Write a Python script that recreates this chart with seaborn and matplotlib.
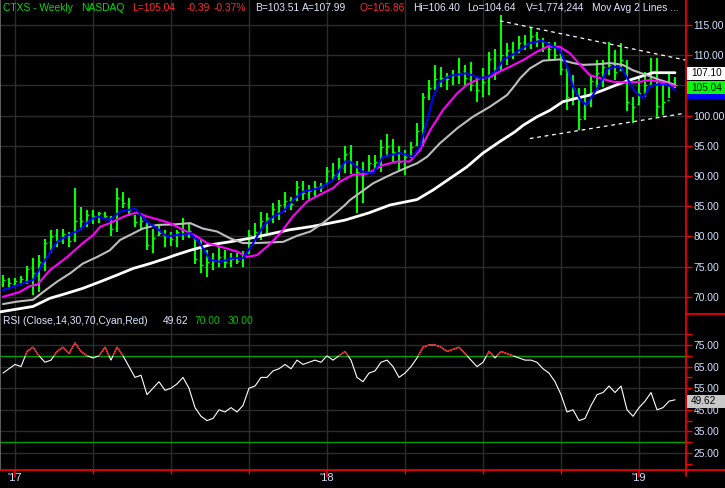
import numpy as np
import pandas as pd
import matplotlib
matplotlib.use("Agg")
import matplotlib.pyplot as plt
import seaborn as sns
from matplotlib.patches import Rectangle
from matplotlib.lines import Line2D

# ---------------- data (weekly bars, index 0 = week of 2016-12-19) ----------------
highs = [73.6,73.1,73.1,73.5,75.1,76.4,76.9,79.5,81.0,81.2, 81.2,80.8,88.0,84.9,84.4,84.4,84.1,84.1,83.3,88.0,
         87.4,86.3,83.6,83.8,82.2,81.3,82.0,81.1,80.8,81.1, 83.0,82.2,80.2,79.4,77.7,77.2,78.3,77.7,77.2,77.2,
         77.5,81.1,82.2,84.1,83.9,85.5,86.1,87.4,86.6,89.1, 89.1,88.5,89.1,88.8,91.5,92.1,92.9,95.0,95.1,92.5,
         92.4,93.5,93.5,96.0,97.0,96.2,94.9,94.3,95.7,98.7, 103.7,105.9,108.4,108.1,107.1,107.5,109.5,108.4,108.9,106.4,
         107.8,110.6,111.0,116.7,112.0,112.2,113.1,113.3,114.5,113.9, 112.8,112.2,112.2,110.9,107.8,106.7,104.5,104.5,106.7,109.2,
         109.2,112.2,110.9,112.0,109.2,103.1,106.2,107.3,109.5,109.5, 105.9,107.0,106.40]
lows = [71.7,71.4,71.7,72.0,72.2,70.3,70.8,74.2,77.2,78.3, 78.8,78.3,79.1,81.1,81.6,82.1,82.2,83.0,80.0,80.8,
        84.7,83.3,81.6,81.1,77.7,77.2,80.0,78.3,78.4,78.3, 79.4,79.7,75.5,73.9,73.3,74.4,75.0,74.7,75.0,75.5,
        75.0,77.2,78.9,79.4,80.2,82.2,82.7,84.1,84.4,85.8, 86.0,86.0,86.6,87.4,88.5,89.1,89.3,90.5,90.4,83.8,
        85.5,90.4,91.0,90.7,93.2,92.4,91.0,90.2,92.9,94.9, 94.9,102.6,104.2,104.8,104.2,105.1,105.3,104.8,104.0,102.3,
        103.1,103.4,105.9,107.5,108.4,109.3,110.3,110.9,111.1,111.4, 110.6,109.2,109.2,106.7,100.9,101.8,97.6,99.3,101.5,104.2,
        104.8,106.7,105.9,107.5,100.7,98.7,101.8,103.1,104.8,99.8, 100.1,102.9,104.64]
opens = [72.2,72.9,72.1,72.5,72.8,74.7,73.5,75.6,79.1,80.2, 79.3,80.2,79.6,83.1,82.4,83.7,83.3,83.7,83.0,81.4,
         86.1,85.4,83.2,82.1,81.9,78.4,80.2,80.3,80.0,79.2, 80.9,80.3,79.8,76.1,74.9,75.5,75.9,76.8,75.6,76.5,
         75.7,77.3,80.1,80.3,82.4,82.9,84.0,85.4,86.0,86.2, 88.5,87.0,87.2,88.3,88.8,91.0,90.0,91.4,93.8,91.9,
         89.9,90.8,92.0,92.6,94.6,95.1,93.7,92.0,93.3,95.2, 97.6,103.3,104.8,106.2,106.5,105.8,106.6,107.4,106.1,105.1,
         104.0,105.8,109.6,108.1,110.3,111.1,110.6,112.2,111.6,113.3, 112.4,111.0,111.3,110.2,107.5,102.9,104.3,99.8,102.1,105.5,
         107.3,107.7,108.6,107.6,108.9,102.0,101.9,104.0,105.3,107.5, 101.4,102.6,105.86]
closes = [72.8,72.3,72.6,72.9,74.6,74.0,75.8,78.9,80.0,79.2, 80.4,79.3,82.5,82.6,83.6,83.4,83.8,83.4,81.2,86.3,
          85.6,84.4,82.4,82.6,78.6,79.8,80.6,80.1,79.5,80.7, 80.5,80.9,76.3,75.2,75.8,76.0,76.6,75.8,76.3,76.0,
          76.8,80.3,80.7,82.6,83.1,84.5,85.2,85.9,85.3,88.1, 87.2,87.5,88.1,88.2,90.8,90.2,91.6,93.6,92.1,90.7,
          90.5,92.2,92.4,94.8,94.9,93.9,92.3,93.1,94.8,97.4, 103.1,104.6,106.0,106.3,106.1,106.7,107.1,106.2,105.0,104.2,
          105.6,109.3,107.7,110.1,110.9,110.3,112.0,111.8,113.1,112.6, 111.3,111.1,110.0,107.7,103.1,104.6,99.5,101.9,105.8,107.1,
          108.0,108.4,107.3,109.2,102.3,101.5,103.8,105.1,107.3,101.6, 102.3,105.4,105.04]

# moving-average lines (week index, price)
blue_idx = [0,5,6.7,9,10.7,12.8,14.5,15.7,17.8,19.5,22,24,25.7,27.3,28.7,31.2,32.8,34.5,36.2,38.3,
            40,41.7,43.3,45,46.7,48.3,50,52.8,55,57,57.8,60,61.7,63.3,66.2,68.3,69.5,70.7,71.7,72.8,
            74.5,77.3,79.5,80.7,82.3,83.3,85.3,87.8,89.8,91.2,92.8,94,95,96.2,97.2,98.3,99.5,100.8,102.3,103.2,
            104.2,105.3,106.7,107.8,109,110.7,112]
blue_val = [71.1,72.8,75.6,79.1,80.1,81.1,82.7,83.3,82.7,84.1,84.6,82.4,81.3,80.0,80.2,80.5,78.9,76.1,75.8,76.4,
            76.4,78.9,81.6,83.3,84.1,86.0,87.4,88.0,89.3,92.4,92.4,90.7,90.4,93.2,93.8,93.2,94.9,99.3,103.1,105.6,
            106.6,107.0,106.2,106.4,107.5,109.2,110.3,112.0,112.4,111.7,110.9,108.1,104.8,102.6,101.8,103.4,105.3,107.8,108.1,107.8,
            105.9,104.0,102.9,104.9,105.1,105.2,104.2]
mag_idx = [0,2.8,4.5,5.7,7.8,10.7,13.3,15,16.2,17.8,19.5,21.2,22.3,24,26.2,27.8,30,32.3,34,36.2,
           39,40.7,42.3,44,46.2,48.3,50.7,52.8,55,56.2,58.3,60.7,63.3,65.7,67.8,69.5,71.2,73.3,75.7,77.3,
           79.5,81.2,82.8,84.5,86.7,89,90.7,92.8,94.5,96.2,97.8,99.5,101.7,104,106.2,107.8,110,112]
mag_val = [70.0,70.8,71.8,72.0,74.4,76.6,78.9,80.2,81.6,82.2,83.0,83.7,83.9,83.3,82.7,82.2,81.1,80.0,78.9,78.3,
           77.5,76.6,76.9,78.3,80.5,83.3,85.8,86.9,88.0,89.1,90.2,90.4,91.8,92.4,92.4,94.3,97.6,100.9,103.7,105.1,
           106.2,106.4,107.3,108.1,109.2,110.6,111.4,111.4,110.3,108.4,106.7,106.2,105.6,105.5,105.6,105.9,105.5,104.9]
gray_idx = [0,2.3,5,6.7,9,11.2,13.3,15.7,17.8,19.5,21.7,23.3,25.7,28.7,31.2,33.3,35.7,37.8,40,42.3,
            44.5,46.7,49,51.2,53.3,55.7,57,57.8,61.7,65,67.3,69,70.7,72.8,75.7,78.3,81.2,84,85.3,86.2,
            87.8,90,92.8,95,96.7,99,101.2,103.3,105,107.3,109.5,112]
gray_val = [68.8,69.2,69.5,70.8,72.5,73.9,75.5,76.6,77.7,79.4,80.5,81.3,81.9,82.0,82.2,81.3,80.8,79.7,78.9,78.9,
            79.0,79.1,80.1,80.8,82.2,84.1,85.2,86.0,88.8,90.4,91.4,92.1,93.2,95.4,97.9,99.8,101.5,103.4,105.0,106.2,
            107.8,109.1,109.3,108.7,108.4,108.5,108.7,108.4,107.5,106.7,105.9,105.1]
white_idx = [-0.5,5,7.8,10.7,13.3,16.2,19,21.7,24.5,27.3,28.7,31.2,34.5,37.8,41.2,44.5,47.8,51.2,54.5,57,
             61,64.5,69,71.7,74.5,77.3,80,82.8,85.3,86.7,89,91.2,93.3,95.7,97.8,100,102.3,104.5,106.7,108.3,112]
white_val = [67.5,68.4,69.75,70.6,71.4,72.5,73.6,74.7,75.5,76.4,76.9,77.7,78.6,79.1,79.7,80.4,81.1,81.6,82.2,82.7,
             83.9,85.2,86.1,87.7,89.6,91.5,93.8,95.7,97.3,98.4,99.8,100.9,102.3,102.9,103.4,104.2,105.1,105.9,106.6,107.1,107.1]

# dashed trend lines
upper_x = [82.8, 113.7]
upper_y = [115.7, 109.2]
lower_x = [87.8, 113.7]
lower_y = [96.2, 100.4]

rsi = [62,64,66,65,72,74,70,67,68,72, 74,71,76,72,70,69,70,74,68,74,
       70,65,60,61,52,55,58,54,55,57, 60,55,46,42,40,41,45,44,46,44,
       47,55,56,60,60,63,64,66,64,68, 66,67,68,67,70,68,70,72,68,60,
       58,62,63,67,68,65,60,62,65,69, 74,75,75,74,72,73,74,71,68,65,
       67,72,69,72,71,70,69,68,68,67, 64,62,58,52,44,45,40,41,47,52,
       53,56,53,56,45,42,46,49,53,45, 46,49,49.62]

year_pos = [2, 54, 106]
year_labels = ["'17", "'18", "'19"]
quarter_pos = [15, 28, 41, 67, 80, 93]
price_ticks = [70, 75, 80, 85, 90, 95, 100, 105, 110, 115]
hidden_price_labels = [105]          # covered by the last-price box in the reference
rsi_ticks = [25, 35, 45, 55, 65, 75]

# ---------------- style ----------------
sns.set_theme(style="dark", rc={"axes.facecolor": "black", "figure.facecolor": "black"})
plt.rcParams["font.family"] = ["Liberation Sans", "DejaVu Sans"]

W, H = 725, 488
GREEN = "#00ff00"
LBL = "#d4e0ff"
RED = "#ff0000"
GRID = "#2c2c2c"
FS = 7.4

fig = plt.figure(figsize=(W / 100, H / 100), dpi=100, facecolor="black")
axw = 686 / W
axp = fig.add_axes([0, 1 - 314 / H, axw, 314 / H])
axr = fig.add_axes([0, 1 - 470 / H, axw, 156 / H], sharex=axp)

def py(y):  # price at pixel row
    return 115 - (y - 25) / 6.04

def ry(y):  # rsi at pixel row
    return 75 - (y - 345) / 2.16

xmin, xmax = -0.5, 113.83
axp.set_xlim(xmin, xmax)
axp.set_ylim(py(314), py(0))
axr.set_ylim(ry(470), ry(314))

for ax in (axp, axr):
    ax.set_facecolor("black")
    for q in year_pos + quarter_pos:
        ax.axvline(q, color=GRID, lw=1, zorder=0)
    for s in ("top", "bottom"):
        ax.spines[s].set_visible(False)
    ax.spines["left"].set_visible(True)
    ax.spines["left"].set_color("#707070")
    ax.spines["left"].set_linewidth(1.2)
    ax.spines["right"].set_visible(True)
    ax.spines["right"].set_color(RED)
    ax.spines["right"].set_linewidth(1.2)
    ax.yaxis.tick_right()
    ax.tick_params(axis="y", which="both", direction="out", colors=RED, labelcolor=LBL,
                   length=4, width=1, pad=1.5, labelsize=FS, left=False, right=True)

for p in price_ticks:
    axp.axhline(p, color=GRID, lw=1, zorder=0)
axp.set_yticks(price_ticks)
axp.set_yticklabels(["" if p in hidden_price_labels else f"{p:.2f}" for p in price_ticks])
axp.tick_params(axis="x", bottom=False, labelbottom=False)

# OHLC bars
idx = np.arange(len(highs))
axp.vlines(idx, lows, highs, color=GREEN, lw=1.5, zorder=2)
axp.hlines(opens, idx - 0.4, idx, color=GREEN, lw=1, zorder=2)
axp.hlines(closes, idx, idx + 0.4, color=GREEN, lw=1, zorder=2)

# moving averages
sns.lineplot(x=white_idx, y=white_val, ax=axp, color="white", lw=2.0, sort=False, estimator=None, zorder=3)
sns.lineplot(x=gray_idx, y=gray_val, ax=axp, color="#bdbdbd", lw=1.5, sort=False, estimator=None, zorder=3)
sns.lineplot(x=mag_idx, y=mag_val, ax=axp, color="#ff00ff", lw=1.5, sort=False, estimator=None, zorder=4)
sns.lineplot(x=blue_idx, y=blue_val, ax=axp, color="#0000ff", lw=1.5, sort=False, estimator=None, zorder=5)
axp.plot(upper_x, upper_y, color="white", lw=0.9, dashes=(3, 3), zorder=5)
axp.plot(lower_x, lower_y, color="white", lw=0.9, dashes=(3, 3), zorder=5)

# RSI panel
for r in rsi_ticks + [80]:
    axr.axhline(r, color=GRID, lw=1, zorder=0)
axr.axhline(70, color="#00a000", lw=1, zorder=1)
axr.axhline(30, color="#00a000", lw=1, zorder=1)
sns.lineplot(x=idx, y=rsi, ax=axr, color="white", lw=0.8, sort=False, estimator=None, zorder=3)
sns.lineplot(x=idx, y=rsi, ax=axr, color=RED, lw=0.8, sort=False, estimator=None, zorder=4)
axr.lines[-1].set_clip_path(Rectangle((xmin - 5, 70), 200, 100, transform=axr.transData))
axr.set_yticks(rsi_ticks)
axr.set_yticklabels([f"{r:.2f}" for r in rsi_ticks])
axr.set_yticks(list(range(20, 85, 5)), minor=True)
axr.set_xticks(year_pos)
axr.set_xticklabels(year_labels)
axr.set_xticks(quarter_pos, minor=True)
axr.tick_params(axis="x", which="major", direction="out", colors=RED, labelcolor=LBL,
                length=5, width=1.2, pad=-2.5, labelsize=FS + 0.6, bottom=True)
axr.tick_params(axis="x", which="minor", direction="out", colors=RED, length=3, width=1, bottom=True)
axr.spines["bottom"].set_visible(True)
axr.spines["bottom"].set_color(RED)
axr.spines["bottom"].set_linewidth(1.2)
for lab in axr.get_xticklabels():
    lab.set_color(LBL)
axp.set_xlabel(""); axr.set_xlabel(""); axp.set_ylabel(""); axr.set_ylabel("")

# figure-level red lines in the axis area
fig.add_artist(Line2D([axw, 1], [1 - 470 / H, 1 - 470 / H], color=RED, lw=1.2, transform=fig.transFigure))
fig.add_artist(Line2D([axw, 1], [1 - 314 / H, 1 - 314 / H], color=RED, lw=1.2, transform=fig.transFigure))
fig.add_artist(Line2D([axw, axw], [1 - 476 / H, 1 - 470 / H], color=RED, lw=1.2, transform=fig.transFigure))

# value boxes on the right axis
def box(ypix, text, fc, hpix=13, tc="black", ty=None):
    y0 = 1 - (ypix + hpix / 2) / H
    fig.add_artist(Rectangle((axw + 1 / W, y0), 1, hpix / H, facecolor=fc, edgecolor="none",
                             transform=fig.transFigure, zorder=10))
    if text:
        fig.text(axw + 5 / W, 1 - (ty if ty is not None else ypix) / H, text, color=tc,
                 fontsize=FS - 0.2, va="center", ha="left", zorder=11)

box(73.5, "107.10", "white", ty=73.3)
box(92, "", "#0000ff")
box(87, "105.04", "#00ff00", ty=87.6)
box(401.5, "49.62", "#c8c8c8")

# header texts
def hdr(xpix, ypix, s, c):
    fig.text(xpix / W, 1 - ypix / H, s, color=c, fontsize=FS, va="center", ha="left", zorder=12)

HG, HR, HW = "#00e000", "#ff2a2a", "#dce6ff"
hdr(3, 8, "CTXS - Weekly", HG)
hdr(81, 8, "NASDAQ", HG)
hdr(132, 8, "L=105.04", HR)
hdr(187, 8, "-0.39", HR)
hdr(214, 8, "-0.37%", HR)
hdr(255, 8, "B=103.51", HW)
hdr(302, 8, "A=107.99", HW)
hdr(360, 8, "O=105.86", HR)
hdr(413, 8, "Hi=106.40", HW)
hdr(467, 8, "Lo=104.64", HW)
hdr(526, 8, "V=1,774,244", HW)
hdr(592, 8, "Mov Avg 2 Lines ...", HW)

hdr(3, 321, "RSI (Close,14,30,70,Cyan,Red)", HW)
hdr(163, 321, "49.62", HW)
hdr(194, 321, "70.00", "#00c000")
hdr(228, 321, "30.00", "#00c000")

fig.savefig("out.png", dpi=100, facecolor="black")
